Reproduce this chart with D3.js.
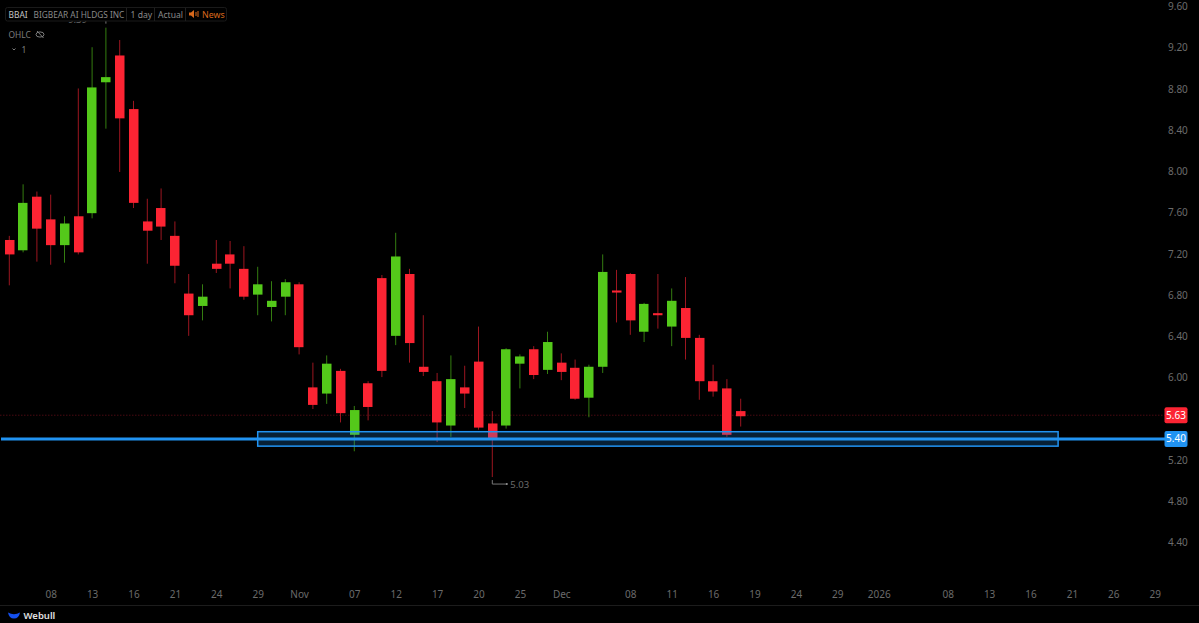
<!DOCTYPE html>
<html>
<head>
<meta charset="utf-8">
<script src="https://cdn.jsdelivr.net/npm/d3@7"></script>
<style>
  html, body { margin: 0; padding: 0; background: #000; overflow: hidden; }
  text { font-family: "Noto Sans", "Open Sans", sans-serif; }
</style>
</head>
<body>
<div id="container"></div>
<script>
/* CONSTANTS AND GLOBALS */
const width = 1199;
const height = 623;
const red = "#fc2433";
const green = "#54c91a";
const blue = "#2193f2";

/* DATA, one entry per trading day */
const open = [7.33,7.23,7.75,7.53,7.28,7.56,7.59,8.86,9.12,8.60,7.51,7.64,7.37,6.81,6.69,7.10,7.19,7.05,6.80,6.68,6.78,6.90,5.90,5.84,6.06,5.44,5.94,6.96,6.40,7.00,6.10,5.96,5.53,5.90,6.15,5.55,5.53,6.13,6.27,6.07,6.14,6.09,5.80,6.10,6.84,7.00,6.44,6.62,6.49,6.67,6.38,5.96,5.89,5.67];
const close = [7.19,7.69,7.44,7.28,7.49,7.21,8.81,8.91,8.51,7.69,7.42,7.46,7.08,6.60,6.78,7.05,7.10,6.78,6.90,6.74,6.92,6.29,5.73,6.13,5.65,5.68,5.71,6.06,7.17,6.33,6.05,5.56,5.98,5.84,5.51,5.41,6.27,6.20,6.02,6.34,6.05,5.79,6.10,7.02,6.82,6.55,6.71,6.60,6.74,6.38,5.96,5.86,5.44,5.62];
const high = [7.37,7.87,7.80,7.77,7.56,8.80,9.20,9.39,9.27,8.68,7.73,7.83,7.51,7.00,6.90,7.33,7.32,7.27,7.07,6.93,6.95,6.92,6.14,6.21,6.08,5.72,5.96,6.99,7.40,7.05,6.60,6.04,6.21,6.11,6.49,5.67,6.28,6.22,6.30,6.44,6.23,6.17,6.12,7.19,7.04,7.01,6.72,7.00,6.86,6.97,6.41,6.12,5.98,5.79];
const low = [6.89,7.21,7.12,7.09,7.11,7.19,7.54,8.41,7.99,7.64,7.10,7.33,6.91,6.40,6.55,7.01,6.86,6.75,6.60,6.54,6.60,6.22,5.69,5.74,5.56,5.28,5.58,6.00,6.31,6.14,6.01,5.37,5.42,5.70,5.49,5.03,5.50,5.89,5.98,6.03,5.97,5.78,5.61,6.04,6.53,6.41,6.34,6.47,6.30,6.17,5.78,5.81,5.42,5.52];

const priceTicks = [9.6,9.2,8.8,8.4,8.0,7.6,7.2,6.8,6.4,6.0,5.2,4.8,4.4];
const dayTicks = [3,6,9,12,15,18,21,25,28,31,34,37,40,45,48,51,54,57,60,63,68,71,74,77,80,83];
const dayLabels = ["08","13","16","21","24","29","Nov","07","12","17","20","25","Dec","08","11","16","19","24","29","2026","08","13","16","21","26","29"];

const lastPrice = 5.63;
const linePrice = 5.40;
const boxTop = 5.47;
const boxBottom = 5.33;
const boxStartDay = 18;
const boxEndDay = 76;

/* SCALES */
const xScale = d3.scaleLinear().domain([0, 83]).range([9.3, 1154.7]);
const yScale = d3.scaleLinear().domain([4.4, 9.6]).range([542, 6]);
const candles = open.map((o, i) => ({ i, o, c: close[i], h: high[i], l: low[i] }));
const candleColor = d => d.c > d.o ? green : red;

/* HTML ELEMENTS */
const svg = d3.select("#container").append("svg")
  .attr("width", width)
  .attr("height", height)
  .style("display", "block")
  .style("background-color", "#000");

// last price dotted line
svg.append("line")
  .attr("x1", 0).attr("x2", 1165)
  .attr("y1", yScale(lastPrice)).attr("y2", yScale(lastPrice))
  .attr("stroke", "#4a0a12")
  .attr("stroke-dasharray", "1.5,1.5");

// wicks
svg.selectAll("line.wick")
  .data(candles)
  .join("line")
  .attr("class", "wick")
  .attr("x1", d => xScale(d.i))
  .attr("x2", d => xScale(d.i))
  .attr("y1", d => yScale(d.h))
  .attr("y2", d => yScale(d.l))
  .attr("stroke", candleColor)
  .attr("stroke-opacity", 0.62)
  .attr("stroke-width", 1);

// bodies
svg.selectAll("rect.body")
  .data(candles)
  .join("rect")
  .attr("class", "body")
  .attr("x", d => Math.round(xScale(d.i) - 4.7))
  .attr("width", 9.5)
  .attr("y", d => yScale(Math.max(d.o, d.c)))
  .attr("height", d => Math.max(2, yScale(Math.min(d.o, d.c)) - yScale(Math.max(d.o, d.c))))
  .attr("fill", candleColor);

// support box and line
svg.append("rect")
  .attr("x", xScale(boxStartDay))
  .attr("width", xScale(boxEndDay) - xScale(boxStartDay))
  .attr("y", yScale(boxTop))
  .attr("height", yScale(boxBottom) - yScale(boxTop))
  .attr("fill", "rgba(33,147,242,0.22)")
  .attr("stroke", blue)
  .attr("stroke-width", 1.5);

svg.append("line")
  .attr("x1", 1).attr("x2", 1165)
  .attr("y1", yScale(linePrice)).attr("y2", yScale(linePrice))
  .attr("stroke", blue)
  .attr("stroke-width", 3);

// axes
const yAxis = d3.axisRight(yScale)
  .tickValues(priceTicks)
  .tickFormat(d3.format(".2f"))
  .tickSize(0)
  .tickPadding(0);
const yG = svg.append("g").attr("transform", "translate(1168,0.5)").call(yAxis);
yG.select(".domain").remove();
yG.selectAll("text").attr("fill", "#6b6b6b").style("font-size", "10px");

const xAxis = d3.axisBottom(xScale)
  .tickValues(dayTicks)
  .tickFormat(d => dayLabels[dayTicks.indexOf(d)])
  .tickSize(0)
  .tickPadding(0);
const xG = svg.append("g").attr("transform", "translate(0,591)").call(xAxis);
xG.select(".domain").remove();
xG.selectAll("text").attr("fill", "#6b6b6b").style("font-size", "10px");

svg.append("line")
  .attr("x1", 0).attr("x2", width)
  .attr("y1", 605.5).attr("y2", 605.5)
  .attr("stroke", "#1c1c1c");

// price tags
const tags = [[lastPrice, red], [linePrice, blue]];
svg.selectAll("rect.tag")
  .data(tags)
  .join("rect")
  .attr("class", "tag")
  .attr("x", 1164.5)
  .attr("y", d => yScale(d[0]) - 8)
  .attr("width", 23)
  .attr("height", 16)
  .attr("rx", 2)
  .attr("fill", d => d[1]);
svg.selectAll("text.tag")
  .data(tags)
  .join("text")
  .attr("class", "tag")
  .attr("x", 1176)
  .attr("y", d => yScale(d[0]) + 3.5)
  .attr("text-anchor", "middle")
  .attr("fill", "#fff")
  .style("font-size", "10px")
  .text(d => d[0].toFixed(2));

// high and low markers
const markHigh = yScale(d3.max(high));
const markLow = yScale(d3.min(low));
svg.append("path")
  .attr("d", `M${xScale(35)},${markLow + 3}V${markLow + 7}H${xScale(35) + 14}`)
  .attr("fill", "none")
  .attr("stroke", "#777");
svg.append("circle").attr("cx", xScale(35) + 14.5).attr("cy", markLow + 7).attr("r", 1).attr("fill", "#999");
svg.append("text")
  .attr("x", xScale(35) + 18).attr("y", markLow + 10.5)
  .attr("fill", "#6b6b6b")
  .style("font-size", "9.5px")
  .text(d3.min(low).toFixed(2));
svg.append("path")
  .attr("d", `M${xScale(7) - 14},${markHigh - 8}H${xScale(7)}V${markHigh - 4}`)
  .attr("fill", "none")
  .attr("stroke", "#777");
svg.append("text")
  .attr("x", xScale(7) - 19).attr("y", markHigh - 5)
  .attr("text-anchor", "end")
  .attr("fill", "#6b6b6b")
  .style("font-size", "9.5px")
  .text(d3.max(high).toFixed(2));

// header
svg.append("rect")
  .attr("x", 5.5).attr("y", 7.5).attr("width", 221).attr("height", 13.5).attr("rx", 2)
  .attr("fill", "#000").attr("stroke", "#1a1a1a");
[126.5, 154.5, 185.5].forEach(x => {
  svg.append("line").attr("x1", x).attr("x2", x).attr("y1", 8).attr("y2", 21).attr("stroke", "#1f1f1f");
});
const headerText = (x, y, t, fill, size) => svg.append("text")
  .attr("x", x).attr("y", y).attr("fill", fill).style("font-size", size + "px").text(t);
headerText(8.5, 17.5, "BBAI", "#c4c4c4", 8.4);
headerText(33.5, 17.5, "BIGBEAR AI HLDGS INC", "#8a8a8a", 8.3);
headerText(130.5, 17.5, "1 day", "#8a8a8a", 8.6);
headerText(158, 17.5, "Actual", "#8a8a8a", 8.6);
headerText(202, 17.5, "News", "#d9691c", 8.8);
svg.append("path")
  .attr("d", "M189,12.5h2l3,-2.5v8l-3,-2.5h-2z")
  .attr("fill", "#d9691c");
svg.append("path")
  .attr("d", "M196,12v4M198,11v6")
  .attr("stroke", "#d9691c");

// OHLC row
headerText(8.5, 37.5, "OHLC", "#7d7d7d", 8.4);
svg.append("ellipse")
  .attr("cx", 40).attr("cy", 34.5).attr("rx", 4).attr("ry", 2.6)
  .attr("fill", "none").attr("stroke", "#7d7d7d");
svg.append("line")
  .attr("x1", 37).attr("y1", 31).attr("x2", 43.5).attr("y2", 38)
  .attr("stroke", "#7d7d7d");
svg.append("path")
  .attr("d", "M12.5,48.5l1.5,1.5l1.5,-1.5")
  .attr("fill", "none").attr("stroke", "#7d7d7d");
headerText(21.5, 53, "1", "#7d7d7d", 8.6);

// webull logo
svg.append("path")
  .attr("d", "M8,612.5Q14,616 20,612.5Q19,618.5 14,618.5Q9,618.5 8,612.5Z")
  .attr("fill", "#1450f0");
svg.append("text")
  .attr("x", 23.5).attr("y", 619)
  .attr("fill", "#e0e0e0")
  .style("font-size", "9.5px")
  .style("font-weight", "600")
  .text("Webull");
</script>
</body>
</html>
